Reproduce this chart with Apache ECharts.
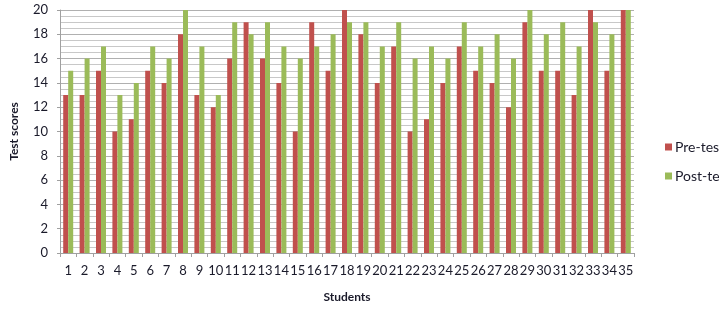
<!DOCTYPE html>
<html>
<head>
<meta charset="utf-8">
<script src="https://cdn.jsdelivr.net/npm/echarts@6/dist/echarts.min.js"></script>
<style>
  html, body { margin: 0; padding: 0; background: #fff; }
  #chart { width: 719px; height: 320px; }
</style>
</head>
<body>
<div id="chart"></div>
<script>
// student numbers 1..35
const students = ['1', '2', '3', '4', '5', '6', '7', '8', '9', '10', '11', '12', '13', '14', '15', '16', '17', '18',
  '19', '20', '21', '22', '23', '24', '25', '26', '27', '28', '29', '30', '31', '32', '33', '34', '35']

const preTest = [13, 13, 15, 10, 11, 15, 14, 18, 13, 12, 16, 19, 16, 14, 10, 19, 15, 20,
  18, 14, 17, 10, 11, 14, 17, 15, 14, 12, 19, 15, 15, 13, 20, 15, 20]

const postTest = [15, 16, 17, 13, 14, 17, 16, 20, 17, 13, 19, 18, 19, 17, 16, 17, 18, 19,
  19, 17, 19, 16, 17, 16, 19, 17, 18, 16, 20, 18, 19, 17, 19, 18, 20]

const seriesNames = ['Pre-test', 'Post-test']

const font = 'Lato, "Liberation Sans", sans-serif'

let myChart = echarts.init(document.getElementById('chart'), null, { renderer: 'canvas' })

let option = {
  animation: false,
  textStyle: { fontFamily: font },
  grid: { left: 49, right: 85, top: 10, bottom: 67 },
  legend: {
    orient: 'vertical',
    left: 660,
    top: 135,
    itemWidth: 7,
    itemHeight: 7,
    itemGap: 15,
    icon: 'rect',
    textStyle: { fontFamily: font, fontSize: 14, color: '#1a1a2a', padding: [0, 0, 0, -2] },
    data: seriesNames
  },
  xAxis: {
    type: 'category',
    data: students,
    name: 'Students',
    nameLocation: 'middle',
    nameGap: 38,
    nameTextStyle: { fontFamily: font, fontSize: 12, fontWeight: 'bold', color: '#1a1a2a' },
    axisLine: { lineStyle: { color: '#a0a0a0' } },
    axisTick: { show: true, alignWithLabel: false, length: 4, lineStyle: { color: '#a0a0a0' } },
    axisLabel: { interval: 0, fontSize: 13, color: '#1a1a2a', margin: 11 }
  },
  yAxis: {
    type: 'value',
    min: 0,
    max: 20,
    interval: 2,
    name: 'Test scores',
    nameLocation: 'middle',
    nameGap: 40,
    nameTextStyle: { fontFamily: font, fontSize: 12, fontWeight: 'bold', color: '#1a1a2a' },
    axisLine: { show: true, lineStyle: { color: '#a0a0a0' } },
    axisTick: { show: true, length: 3, lineStyle: { color: '#a0a0a0' } },
    axisLabel: { fontSize: 13, color: '#1a1a2a', margin: 12 },
    splitLine: { show: true, lineStyle: { color: '#b0b0b0' } },
    minorTick: { show: false, splitNumber: 4 },
    minorSplitLine: { show: true, lineStyle: { color: '#c8c8c8' } }
  },
  series: [
    {
      name: seriesNames[0],
      type: 'bar',
      data: preTest,
      barWidth: 5,
      barGap: '0%',
      itemStyle: { color: '#c0504d' }
    },
    {
      name: seriesNames[1],
      type: 'bar',
      data: postTest,
      barWidth: 5,
      barGap: '0%',
      itemStyle: { color: '#9bbb59' }
    }
  ]
}

myChart.setOption(option)
</script>
</body>
</html>
